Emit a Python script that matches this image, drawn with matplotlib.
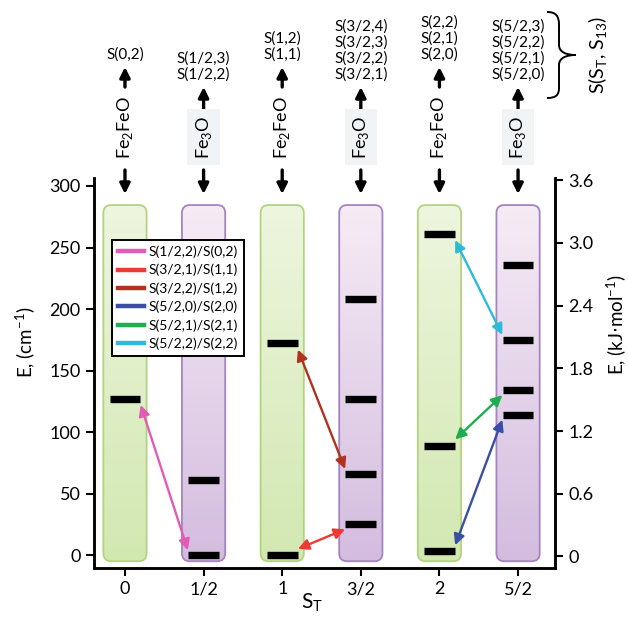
import matplotlib
matplotlib.use('Agg')
import matplotlib.pyplot as plt
import numpy as np
import matplotlib.transforms as mtransforms
from matplotlib.patches import FancyBboxPatch, PathPatch
from matplotlib.path import Path
from matplotlib.lines import Line2D
from matplotlib.colors import to_rgb

plt.rcParams['font.family'] = ['Lato', 'DejaVu Sans']

#Daten
S_T       = ['0', '1/2', '1', '3/2', '2', '5/2']
molekuel  = ['Fe2FeO', 'Fe3O', 'Fe2FeO', 'Fe3O', 'Fe2FeO', 'Fe3O']
levels    = [[127], [0, 61], [0, 172], [25, 66, 127, 208], [3, 89, 261], [114, 134, 175, 236]]
zustaende = [['S(0,2)'],
             ['S(1/2,3)', 'S(1/2,2)'],
             ['S(1,2)', 'S(1,1)'],
             ['S(3/2,4)', 'S(3/2,3)', 'S(3/2,2)', 'S(3/2,1)'],
             ['S(2,2)', 'S(2,1)', 'S(2,0)'],
             ['S(5/2,3)', 'S(5/2,2)', 'S(5/2,1)', 'S(5/2,0)']]

#Uebergaenge (Spalte, Energie) -> (Spalte, Energie)
trans_von    = [(0, 127), (2, 0), (2, 172), (4, 3), (4, 89), (4, 261)]
trans_nach   = [(1, 0), (3, 25), (3, 66), (5, 114), (5, 134), (5, 175)]
trans_label  = ['S(1/2,2)/S(0,2)', 'S(3/2,1)/S(1,1)', 'S(3/2,2)/S(1,2)',
                'S(5/2,0)/S(2,0)', 'S(5/2,1)/S(2,1)', 'S(5/2,2)/S(2,2)']
trans_farbe  = ['#e25bb4', '#ee3a32', '#b2321f', '#3b4ea6', '#1fae4f', '#2fbad9']

left_ticks   = [0, 50, 100, 150, 200, 250, 300]
right_ticks  = [0, 0.6, 1.2, 1.8, 2.4, 3.0, 3.6]
right_labels = ['0', '0.6', '1.2', '1.8', '2.4', '3.0', '3.6']

W, H = 629, 620
fig = plt.figure(figsize=(W/100, H/100), dpi=100)
ax = fig.add_axes([94/W, 1-568/H, (555-94)/W, (568-178)/H])
ax2 = ax.twinx()

def fy(py):  # pixel von oben -> figure fraction
    return 1 - py/H

stil = {'Fe2FeO': ('#eef6df', '#d2e8b1', '#b3d47f'),
        'Fe3O':   ('#f6ecf5', '#d4bcdf', '#a384c2')}

band_w, band_lo, band_hi = 0.55, -5, 284.5
bar_w = 0.39
for i, (mol, lev) in enumerate(zip(molekuel, levels)):
    top, bot, edge = stil[mol]
    patch = FancyBboxPatch((i-band_w/2, band_lo), band_w, band_hi-band_lo,
                           boxstyle='round,pad=0,rounding_size=0.1', mutation_aspect=65,
                           facecolor='none', edgecolor=edge, lw=1.3, zorder=2)
    ax.add_patch(patch)
    t = np.linspace(0, 1, 200)[:, None, None]
    grad = (1-t)*np.array(to_rgb(top)) + t*np.array(to_rgb(bot))
    im = ax.imshow(grad, extent=[i-band_w/2, i+band_w/2, band_lo, band_hi],
                   aspect='auto', zorder=1, interpolation='bilinear')
    im.set_clip_path(patch)
    ax.hlines(lev, i-bar_w/2, i+bar_w/2, colors='black', lw=5.3, capstyle='butt', zorder=4)

#Pfeile
for (x1, y1), (x2, y2), c in zip(trans_von, trans_nach, trans_farbe):
    s = 1 if y2 > y1 else -1
    ax.annotate('', xy=(x2-0.2, y2-s*4), xytext=(x1+0.2, y1+s*5),
                arrowprops=dict(arrowstyle='<|-|>', color=c, lw=1.7,
                                mutation_scale=16, shrinkA=0, shrinkB=0), zorder=5)

handles = [Line2D([], [], color=c, lw=3.2) for c in trans_farbe]
leg = ax.legend(handles, trans_label, loc='upper left', bbox_to_anchor=(0.039, 0.841),
                borderaxespad=0, fontsize=10, labelspacing=0.42, handlelength=1.9,
                handletextpad=0.35, fancybox=False, framealpha=1, edgecolor='black',
                borderpad=0.4)
leg.get_frame().set_linewidth(1.4)
leg.set_zorder(10)

ax.set_xlim(-0.394, 5.47)
ax.set_ylim(-10.5, 306.5)
ax2.set_ylim(-0.11, 3.62)
ax.set_xticks(range(len(S_T)))
ax.set_xticklabels(S_T)
ax.set_yticks(left_ticks)
ax2.set_yticks(right_ticks)
ax2.set_yticklabels(right_labels)
for a in (ax, ax2):
    for sp in a.spines.values():
        sp.set_linewidth(1.8)
    a.spines['top'].set_visible(False)
    a.tick_params(labelsize=13, length=6, width=1.5, direction='out')
ax.patch.set_visible(False)

fig.text(26/W, fy(342), 'E, (cm$^\\mathregular{-1}$)', rotation=90, ha='center', va='center', fontsize=13.5)
fig.text(617/W, fy(325), 'E, (kJ$\\cdot$mol$^\\mathregular{-1}$)', rotation=90, ha='center', va='center', fontsize=13.5)
fig.text(312/W, fy(603), 'S$_\\mathregular{T}$', ha='center', va='center', fontsize=15)

#Beschriftung oben
blend = mtransforms.blended_transform_factory(ax.transData, fig.transFigure)
pfeil = dict(arrowstyle='-|>', color='black', lw=2.4, mutation_scale=15, shrinkA=0, shrinkB=0)
for i, (mol, lab) in enumerate(zip(molekuel, zustaende)):
    if mol == 'Fe2FeO':
        tip, tail, ymol = 67, 87, 128
        txt = 'Fe$_\\mathregular{2}$FeO'
        box = None
    else:
        tip, tail, ymol = 87, 110, 137
        txt = 'Fe$_\\mathregular{3}$O'
        box = dict(boxstyle='square,pad=0.35', facecolor='#f1f4f7', edgecolor='none')
    ax.annotate('', xy=(i, fy(tip)), xytext=(i, fy(tail)), xycoords=blend,
                textcoords=blend, arrowprops=pfeil, annotation_clip=False)
    ax.annotate('', xy=(i, fy(194)), xytext=(i, fy(170)), xycoords=blend,
                textcoords=blend, arrowprops=pfeil, annotation_clip=False)
    ax.text(i, fy(ymol), txt, transform=blend, rotation=90, ha='center', va='center',
            fontsize=13, bbox=box)
    for k, s in enumerate(lab[::-1]):
        ax.text(i, fy(tip-12-16*k), s, transform=blend, ha='center', va='center', fontsize=11)

#Klammer
bx = [(547, 12), (556, 12), (559, 16), (559, 25), (559, 45), (559, 52), (566, 55), (576, 55),
      (566, 55), (559, 58), (559, 65), (559, 88), (559, 95), (556, 98), (547, 98)]
codes = [Path.MOVETO, Path.CURVE4, Path.CURVE4, Path.CURVE4, Path.LINETO,
         Path.CURVE4, Path.CURVE4, Path.CURVE4, Path.CURVE4, Path.CURVE4, Path.CURVE4,
         Path.LINETO, Path.CURVE4, Path.CURVE4, Path.CURVE4]
verts = [(px/W, fy(py)) for px, py in bx]
fig.add_artist(PathPatch(Path(verts, codes), facecolor='none', edgecolor='black',
                         lw=1.4, transform=fig.transFigure))
fig.text(598/W, fy(55), 'S(S$_\\mathregular{T}$, S$_\\mathregular{13}$)', rotation=90,
         ha='center', va='center', fontsize=14)

fig.savefig('out.png', dpi=100)
